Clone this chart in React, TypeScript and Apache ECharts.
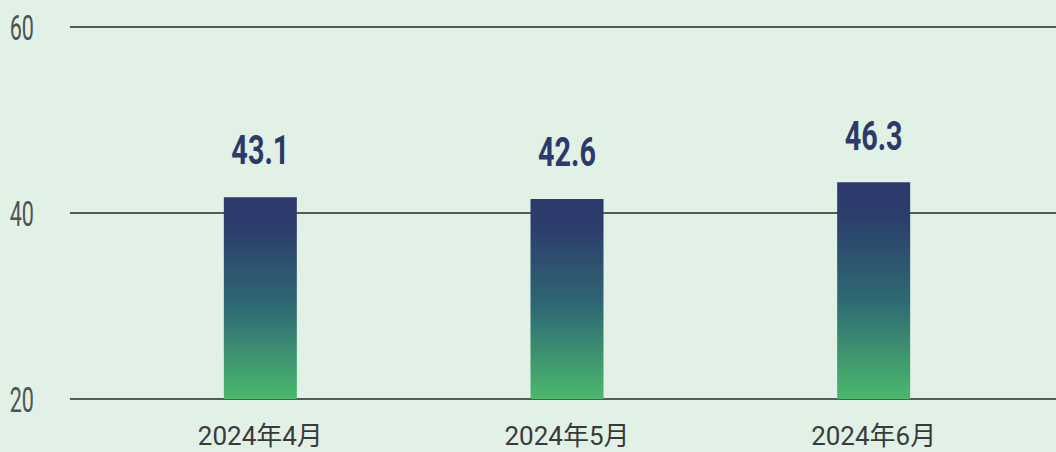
import React, { useEffect, useRef } from "react";
import * as echarts from "echarts";

const categories = ["2024年4月", "2024年5月", "2024年6月"];
const barValues = [41.7, 41.5, 43.3];
const labelValues = ["43.1", "42.6", "46.3"];
const yMin = 20;
const yMax = 60;
const yInterval = 20;
const yTickValues = [20, 40, 60];

export default function App() {
  const ref = useRef<HTMLDivElement>(null);
  useEffect(() => {
    if (!ref.current) return;
    const chart = echarts.init(ref.current, null, { renderer: "svg" });
    const gridTop = 27;
    const gridBottom = 53;
    chart.setOption({
      animation: false,
      backgroundColor: "#e1f1e6",
      grid: [
        { left: 70, right: 0, top: gridTop, bottom: gridBottom },
        { left: 107, right: 29, top: gridTop, bottom: gridBottom },
      ],
      xAxis: [
        { gridIndex: 0, type: "category", data: categories, show: false },
        {
          gridIndex: 1,
          type: "category",
          data: categories,
          axisLine: { show: false },
          axisTick: { show: false },
          axisLabel: {
            color: "#3a3a3a",
            fontSize: 26,
            lineHeight: 26,
            margin: 24,
            fontFamily: "Roboto, 'Noto Sans CJK JP', sans-serif",
          },
        },
      ],
      yAxis: [
        {
          gridIndex: 0,
          type: "value",
          min: yMin,
          max: yMax,
          interval: yInterval,
          axisLine: { show: false },
          axisTick: { show: false },
          axisLabel: { show: false },
          splitLine: { lineStyle: { color: "#555a58", width: 2 } },
        },
        {
          gridIndex: 1,
          type: "value",
          min: yMin,
          max: yMax,
          interval: yInterval,
          show: false,
          splitLine: { show: false },
        },
      ],
      series: [
        {
          type: "bar",
          xAxisIndex: 1,
          yAxisIndex: 1,
          data: barValues,
          barWidth: 73,
          itemStyle: {
            color: new echarts.graphic.LinearGradient(0, 0, 0, 1, [
              { offset: 0, color: "#2c3a6b" },
              { offset: 0.15, color: "#2c3d6c" },
              { offset: 0.55, color: "#2f6a74" },
              { offset: 1, color: "#4bb86c" },
            ]),
          },
        },
        {
          type: "custom",
          name: "values",
          xAxisIndex: 1,
          yAxisIndex: 1,
          data: barValues.map((v, i) => [i, v]),
          silent: true,
          renderItem: (params: any, api: any) => {
            const pt = api.coord([api.value(0), api.value(1)]);
            return {
              type: "text",
              x: pt[0],
              y: pt[1] - 46,
              scaleX: 0.72,
              style: {
                text: labelValues[params.dataIndex],
                fill: "#2c3a6b",
                fontSize: 40,
                fontWeight: "bold",
                fontFamily: "Roboto, sans-serif",
                textAlign: "center",
                textVerticalAlign: "middle",
              },
            };
          },
        },
        {
          type: "custom",
          name: "yTicks",
          xAxisIndex: 0,
          yAxisIndex: 0,
          data: yTickValues.map((v) => [0, v]),
          silent: true,
          renderItem: (params: any, api: any) => {
            const pt = api.coord([0, api.value(1)]);
            return {
              type: "text",
              x: params.coordSys.x - 36,
              y: pt[1],
              scaleX: 0.6,
              style: {
                text: String(api.value(1)),
                fill: "#4f5452",
                fontSize: 36,
                fontFamily: "Roboto, sans-serif",
                textAlign: "right",
                textVerticalAlign: "middle",
              },
            };
          },
        },
      ],
    });
    return () => chart.dispose();
  }, []);
  return <div ref={ref} style={{ width: 1056, height: 452, position: "absolute", left: 0, top: 0 }} />;
}
